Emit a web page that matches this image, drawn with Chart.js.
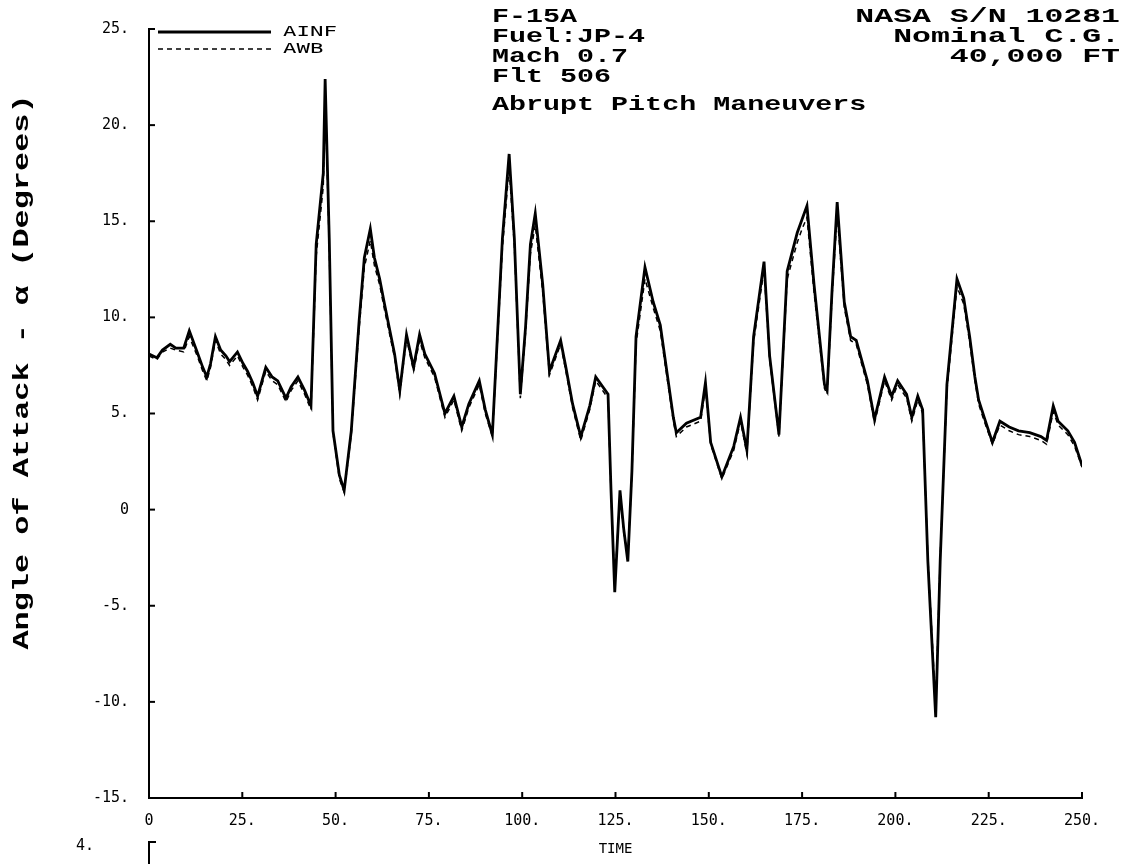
<!DOCTYPE html>
<html>
<head>
<meta charset="utf-8">
<script src="https://cdn.jsdelivr.net/npm/chart.js@4.4.1/dist/chart.umd.min.js"></script>
<style>
  html, body { margin: 0; padding: 0; background: #fff; }
  #wrap { width: 1128px; height: 864px; }
</style>
</head>
<body>
<div id="wrap"><canvas id="aoaChart" width="1128" height="864"></canvas></div>
<script>
// time (s) and angle of attack (deg)
const time = [0, 2.1, 3.6, 5.7, 7.2, 9.3, 10.8, 12.9, 14.4, 15.5, 16.5, 17.8, 19.2, 20.6, 21.6, 23.7, 25.2, 26.4, 27.8, 29.1,
    31.3, 33.0, 34.5, 36.7, 38.1, 39.9, 41.7, 43.4, 44.8, 46.7, 47.2, 48.3, 49.3, 51.0, 52.3, 54.2, 56.3, 57.7, 59.3, 60.4,
    61.8, 63.1, 65.8, 67.2, 69.0, 70.9, 72.5, 73.9, 76.5, 79.3, 81.7, 83.8, 85.7, 88.5, 90.1, 92.0, 94.7, 96.5, 97.9, 99.5,
    100.9, 102.2, 103.5, 105.5, 107.3, 110.3, 111.7, 113.5, 115.7, 118.1, 119.7, 123.0, 123.8, 124.8, 126.2, 127.2, 128.3, 129.4, 130.5, 132.9,
    135.1, 137.0, 140.5, 141.3, 144.0, 147.8, 149.1, 150.5, 153.5, 156.7, 158.5, 160.2, 162.0, 164.8, 166.3, 168.8, 171.0, 173.7, 175.0, 176.3,
    178.2, 181.0, 181.7, 183.0, 184.4, 186.3, 188.0, 189.5, 192.5, 194.4, 197.1, 199.0, 200.6, 203.0, 204.4, 206.0, 207.3, 208.7, 210.8, 212.0,
    213.8, 216.5, 218.3, 219.9, 221.3, 222.3, 223.8, 226.0, 228.0, 230.5, 233.0, 236.0, 239.0, 240.5, 242.3, 243.6, 246.2, 248.0, 249.5, 250];

const ainf = [8.1, 7.9, 8.3, 8.6, 8.4, 8.4, 9.3, 8.2, 7.4, 6.9, 7.6, 9.0, 8.3, 8.0, 7.7, 8.2, 7.6, 7.2, 6.6, 5.9,
    7.4, 6.9, 6.7, 5.8, 6.4, 6.9, 6.2, 5.4, 13.8, 17.5, 22.4, 14.1, 4.1, 1.8, 1.0, 4.1, 9.8, 13.1, 14.6, 13.1,
    12.0, 10.7, 8.1, 6.2, 9.1, 7.4, 9.1, 8.1, 7.1, 5.0, 5.9, 4.3, 5.5, 6.7, 5.2, 3.9, 14.1, 18.5, 14.1, 6.0,
    9.5, 13.8, 15.4, 11.7, 7.2, 8.8, 7.4, 5.5, 3.8, 5.4, 6.9, 6.0, 1.0, -4.3, 1.0, -1.0, -2.7, 2.0, 9.0, 12.6,
    10.8, 9.6, 4.8, 4.0, 4.5, 4.8, 6.6, 3.5, 1.7, 3.3, 4.8, 3.1, 9.0, 12.9, 8.0, 3.9, 12.4, 14.4, 15.1, 15.8,
    11.7, 6.5, 6.2, 11.3, 16.0, 10.8, 9.0, 8.8, 6.7, 4.7, 6.9, 5.9, 6.7, 6.0, 4.8, 5.9, 5.2, -2.7, -10.8, -2.7,
    6.5, 12.0, 11.0, 9.0, 6.9, 5.7, 4.8, 3.5, 4.6, 4.3, 4.1, 4.0, 3.8, 3.6, 5.4, 4.6, 4.1, 3.5, 2.6, 2.3];

const awb = [8.0, 7.8, 8.2, 8.4, 8.3, 8.2, 9.0, 8.0, 7.2, 6.7, 7.4, 8.8, 8.1, 7.8, 7.5, 8.0, 7.4, 7.0, 6.4, 5.7,
    7.2, 6.7, 6.5, 5.6, 6.2, 6.7, 6.0, 5.2, 13.2, 16.8, 21.6, 13.6, 4.0, 1.6, 0.9, 3.9, 9.4, 12.6, 14.0, 12.7,
    11.7, 10.4, 7.9, 6.0, 8.9, 7.2, 8.8, 7.9, 6.9, 4.8, 5.7, 4.1, 5.3, 6.5, 5.0, 3.8, 13.6, 17.8, 13.7, 5.8,
    9.2, 13.3, 14.8, 11.3, 7.0, 8.6, 7.2, 5.3, 3.6, 5.2, 6.7, 5.8, 0.8, -3.9, 0.8, -1.2, -2.4, 1.8, 8.6, 12.0,
    10.5, 9.3, 4.6, 3.8, 4.3, 4.6, 6.3, 3.4, 1.6, 3.1, 4.6, 2.9, 8.7, 12.5, 7.8, 3.8, 12.0, 13.9, 14.6, 15.2,
    11.3, 6.3, 6.0, 11.0, 15.4, 10.5, 8.8, 8.6, 6.5, 4.5, 6.7, 5.7, 6.5, 5.8, 4.6, 5.7, 5.0, -2.5, -10.2, -2.5,
    6.2, 11.6, 10.7, 8.7, 6.7, 5.5, 4.6, 3.4, 4.4, 4.1, 3.9, 3.8, 3.6, 3.4, 5.1, 4.4, 3.9, 3.3, 2.5, 2.2];

const yTicks = [25, 20, 15, 10, 5, 0, -5, -10, -15];
const xTicks = [0, 25, 50, 75, 100, 125, 150, 175, 200, 225, 250];
const notesLeft = ['F-15A', 'Fuel:JP-4', 'Mach 0.7', 'Flt 506'];
const notesRight = ['NASA S/N 10281', 'Nominal C.G.', '40,000 FT'];
const subtitle = 'Abrupt Pitch Maneuvers';
const yTitle = 'Angle of Attack - \u03b1 (Degrees)';

const boldFont = 'bold 21px "Liberation Mono"';
const dotFont = '15px "DejaVu Sans Mono"';

function wideText(ctx, text, x, y, align, sx) {
    ctx.save();
    ctx.translate(x, y);
    ctx.scale(sx, 1);
    ctx.textAlign = align;
    ctx.fillText(text, 0, 0);
    ctx.restore();
}

// annotations, legend, axis title and inward tick marks
const decor = {
    id: 'decor',
    afterDatasetsDraw(chart) {
        const ctx = chart.ctx;
        const xs = chart.scales.x, ys = chart.scales.y;
        const a = chart.chartArea;
        ctx.save();
        ctx.strokeStyle = '#000';
        ctx.lineWidth = 2;
        yTicks.forEach(v => {
            const p = ys.getPixelForValue(v);
            ctx.beginPath(); ctx.moveTo(a.left, p); ctx.lineTo(a.left + 6, p); ctx.stroke();
        });
        xTicks.forEach(v => {
            const p = xs.getPixelForValue(v);
            ctx.beginPath(); ctx.moveTo(p, a.bottom); ctx.lineTo(p, a.bottom - 6); ctx.stroke();
        });

        // legend
        chart.data.datasets.forEach((d, i) => {
            const y = 32 + i * 17;
            ctx.beginPath();
            ctx.lineWidth = d.borderWidth;
            ctx.setLineDash(d.borderDash || []);
            ctx.moveTo(a.left + 9, y); ctx.lineTo(a.left + 122, y);
            ctx.stroke();
            ctx.setLineDash([]);
            ctx.fillStyle = '#000';
            ctx.font = '14px "DejaVu Sans Mono"';
            ctx.textBaseline = 'middle';
            wideText(ctx, d.label, a.left + 134, y, 'left', 1.6);
        });

        ctx.fillStyle = '#000';
        ctx.font = boldFont;
        ctx.textBaseline = 'alphabetic';
        notesLeft.forEach((t, i) => wideText(ctx, t, 492, 22 + i * 20, 'left', 1.35));
        wideText(ctx, subtitle, 492, 110, 'left', 1.35);
        notesRight.forEach((t, i) => wideText(ctx, t, 1120, 22 + i * 20, 'right', 1.5));

        ctx.save();
        ctx.translate(22, 372);
        ctx.rotate(-Math.PI / 2);
        ctx.font = 'bold 22px "Liberation Mono"';
        ctx.textBaseline = 'middle';
        wideText(ctx, yTitle, 0, 0, 'center', 1.45);
        ctx.restore();

        ctx.font = dotFont;
        ctx.textBaseline = 'middle';
        ctx.textAlign = 'left';
        ctx.fillText('4.', 76, 846);
        ctx.lineWidth = 2;
        ctx.beginPath();
        ctx.moveTo(a.left, 864); ctx.lineTo(a.left, 842); ctx.lineTo(a.left + 7, 842);
        ctx.stroke();
        ctx.restore();
    }
};

const ctx = document.getElementById('aoaChart').getContext('2d');
const aoaChart = new Chart(ctx, {
    type: 'line',
    data: {
        datasets: [
            {
                label: 'AINF',
                data: time.map((t, i) => ({x: t, y: ainf[i]})),
                borderColor: '#000',
                borderWidth: 2.8,
                pointRadius: 0,
                tension: 0
            },
            {
                label: 'AWB',
                data: time.map((t, i) => ({x: t, y: awb[i]})),
                borderColor: '#000',
                borderWidth: 1.5,
                borderDash: [5, 4],
                pointRadius: 0,
                tension: 0
            }
        ]
    },
    options: {
        responsive: false,
        animation: false,
        layout: { padding: { top: 22, right: 46, bottom: 0, left: 0 } },
        plugins: { legend: { display: false }, tooltip: { enabled: false } },
        scales: {
            x: {
                type: 'linear',
                min: 0,
                max: 250,
                afterFit: s => { s.height = 66; },
                afterBuildTicks: s => { s.ticks = xTicks.map(v => ({value: v})); },
                grid: { display: false, drawTicks: false },
                border: { display: true, color: '#000', width: 2 },
                ticks: {
                    color: '#000',
                    font: { family: 'DejaVu Sans Mono', size: 15 },
                    padding: 14,
                    maxRotation: 0,
                    callback: v => v === 0 ? '0' : v + '.'
                },
                title: {
                    display: true,
                    text: 'TIME',
                    color: '#000',
                    font: { family: 'DejaVu Sans Mono', size: 14 },
                    padding: { top: 0, bottom: 6 }
                }
            },
            y: {
                min: -15,
                max: 25,
                afterFit: s => { s.width = 149; },
                afterBuildTicks: s => { s.ticks = yTicks.map(v => ({value: v})); },
                grid: { display: false, drawTicks: false },
                border: { display: true, color: '#000', width: 2 },
                ticks: {
                    color: '#000',
                    font: { family: 'DejaVu Sans Mono', size: 15 },
                    padding: 20,
                    callback: v => v === 0 ? '0' : v + '.'
                }
            }
        }
    },
    plugins: [decor]
});
</script>
</body>
</html>
